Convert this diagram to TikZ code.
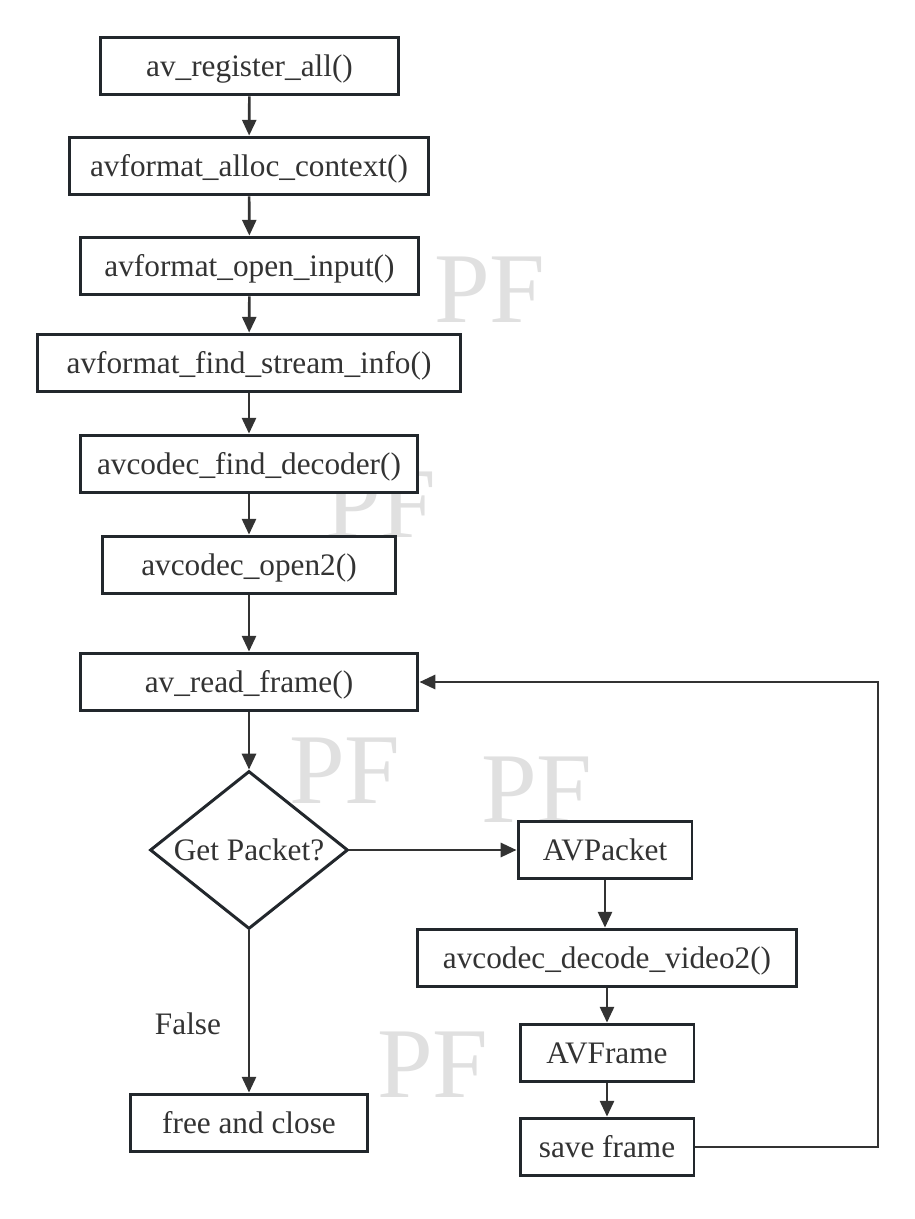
\documentclass[tikz,border=0pt]{standalone}
\usepackage{fontspec}
\setmainfont{Liberation Serif}
\usetikzlibrary{shapes.geometric}
\usetikzlibrary{arrows.meta}
\usetikzlibrary{positioning}

\definecolor{boxline}{HTML}{22272C}
\definecolor{flowline}{HTML}{333333}
\definecolor{markgray}{HTML}{E0E0E0}

\tikzset{
  func/.style={draw=boxline, line width=1.7pt, fill=white, text=flowline,
    minimum height=32.9pt, minimum width=#1, inner xsep=6pt, inner ysep=0pt,
    text height=16pt, text depth=3.8pt, font=\fontsize{17.8}{20}\selectfont},
  func/.default=3.48cm,
  decide/.style={diamond, aspect=1.25, draw=boxline, line width=1.7pt, fill=white, text=flowline,
    minimum width=3.96cm, minimum height=3.16cm, inner sep=0pt, font=\fontsize{17.8}{20}\selectfont},
  flow/.style={draw=flowline, line width=1.5pt, -{Triangle[length=9pt,width=8pt]}},
  wmark/.style={text=markgray, anchor=base, font=\fontsize{57}{60}\selectfont},
}

\begin{document}
\begin{tikzpicture}[x=0.02cm, y=-0.02cm]
    \useasboundingbox (0,0) rectangle (915,1219);

    % watermarks
    \node[wmark] (pf1) at (490,323) {PF};
    \node[wmark] (pf2) at (381,537) {PF};
    \node[wmark] (pf3) at (345,803) {PF};
    \node[wmark] (pf4) at (537,822) {PF};
    \node[wmark] (pf5) at (433,1097) {PF};

    \node[func=5.98cm] (reg) at (249.5,66) {av\_register\_all()};
    \node[func=7.2cm] (alloc) at (249,166) {avformat\_alloc\_context()};
    \node[func=6.78cm] (open) at (249.5,266) {avformat\_open\_input()};
    \node[func=8.48cm] (info) at (249,363) {avformat\_find\_stream\_info()};
    \node[func=6.76cm] (finddec) at (249,464) {avcodec\_find\_decoder()};
    \node[func=5.88cm] (open2) at (249,565) {avcodec\_open2()};
    \node[func=6.76cm] (read) at (249,682) {av\_read\_frame()};
    \node[decide] (get) at (249,850) {Get Packet?};
    \node[func] (packet) at (605,850) {AVPacket};
    \node[func=7.6cm] (decode) at (607,958) {avcodec\_decode\_video2()};
    \node[func] (frame) at (607,1053) {AVFrame};
    \node[func] (save) at (607,1147) {save frame};
    \node[func=4.76cm] (close) at (249,1123) {free and close};
    \node[text=flowline, font=\fontsize{17.8}{20}\selectfont] (false) at (188,1024) {False};
    \coordinate (loop) at (878,682);

\draw [flow] (reg) -- (alloc);
\draw [flow] (alloc) -- (open);
\draw [flow] (open) -- (info);
\draw [flow] (info) -- (finddec);
\draw [flow] (finddec) -- (open2);
\draw [flow] (open2) -- (read);
\draw [flow] (read) -- (get);
\draw [flow] (get.east) -- (packet.west);
\draw [flow] (get.south) -- (close.north);
\draw [flow] (packet) -- (packet |- decode.north);
\draw [flow] (decode.south -| frame) -- (frame);
\draw [flow] (frame) -- (save);
\draw [flow] (save.east) -| (loop) -- (read.east);
\end{tikzpicture}
\end{document}
